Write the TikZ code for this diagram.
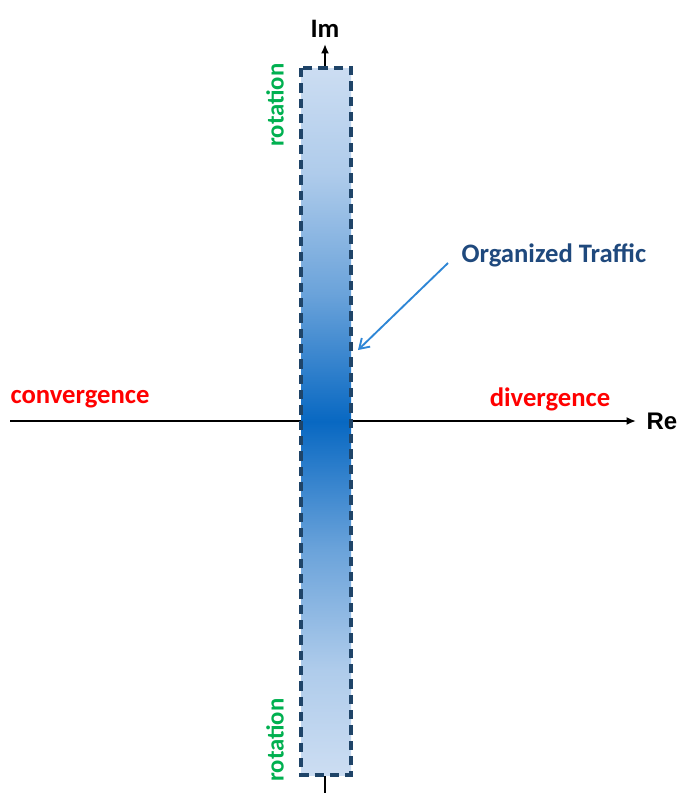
\documentclass[tikz,border=0pt]{standalone}
\usepackage{fontspec}
\setmainfont{Carlito}
\newfontfamily\arialish{Liberation Sans}
\usepackage{xcolor}
\usetikzlibrary{positioning, calc, arrows.meta}
\definecolor{BandLight}{HTML}{CCDDF2}
\definecolor{BandDark}{HTML}{0868C2}
\definecolor{BandEdge}{HTML}{1F4468}
\definecolor{TrafficNavy}{HTML}{1F497D}
\definecolor{PointerBlue}{HTML}{2E86D6}
\definecolor{RotGreen}{HTML}{00B050}
\definecolor{FlowRed}{HTML}{FF0000}
\pgfdeclareverticalshading{bandshade}{100bp}{color(0bp)=(BandLight); color(25bp)=(BandLight);
  color(32.5bp)=(BandLight!85!BandDark); color(41bp)=(BandLight!50!BandDark); color(50bp)=(BandDark);
  color(59bp)=(BandLight!50!BandDark); color(67.5bp)=(BandLight!85!BandDark); color(75bp)=(BandLight);
  color(100bp)=(BandLight)}

\begin{document}
\begin{tikzpicture}[x=0.75pt, y=-0.75pt,
    axis/.style={line width=1.6pt, -{Latex[length=7pt, width=6pt]}},
    axislabel/.style={font=\fontsize{20}{24}\selectfont\bfseries, text=black, inner sep=1pt},
    flowlabel/.style={font=\fontsize{20}{24}\selectfont\bfseries, text=FlowRed, inner sep=1pt},
    rotlabel/.style={font=\fontsize{18.5}{22}\selectfont\bfseries, text=RotGreen, rotate=90, inner sep=1pt},
    trafficlabel/.style={font=\fontsize{20}{24}\selectfont\bfseries, text=TrafficNavy, inner sep=1pt}]
  \useasboundingbox[fill=white] (0,0) rectangle (685,793);
  % axes
  \coordinate (reStart) at (10,421);
  \coordinate (reEnd) at (636,421);
  \coordinate (imStart) at (325,793);
  \coordinate (imEnd) at (325,44);
  \draw[axis] (reStart) -- (reEnd);
  \draw[axis] (imStart) -- (imEnd);
  \node[axislabel, anchor=west, font=\arialish\fontsize{18}{22}\selectfont\bfseries] (re) at (645,421) {Re};
  \node[axislabel, anchor=south] (im) at (325,39) {Im};
  % band of organized traffic
  \shade[shading=bandshade] (301,68) rectangle (351,775);
  \draw[BandEdge, line width=2.7pt, dash pattern=on 7pt off 4.5pt]
    (301,68) rectangle (351,775);
  % labels
  \node[flowlabel] (conv) at (80,399) {convergence};
  \node[flowlabel] (div) at (550,399) {divergence};
  \node[rotlabel] (rotTop) at (275,105) {rotation};
  \node[rotlabel] (rotBottom) at (275,740) {rotation};
  \node[trafficlabel, anchor=west] (traffic) at (460,255) {Organized Traffic};
  \coordinate (bandHit) at (358,350);
  \draw[PointerBlue, line width=1.4pt, -{Straight Barb[length=7pt, width=9pt]}]
    ($(traffic.west)+(-12,8)$) -- (bandHit);
\end{tikzpicture}
\end{document}
